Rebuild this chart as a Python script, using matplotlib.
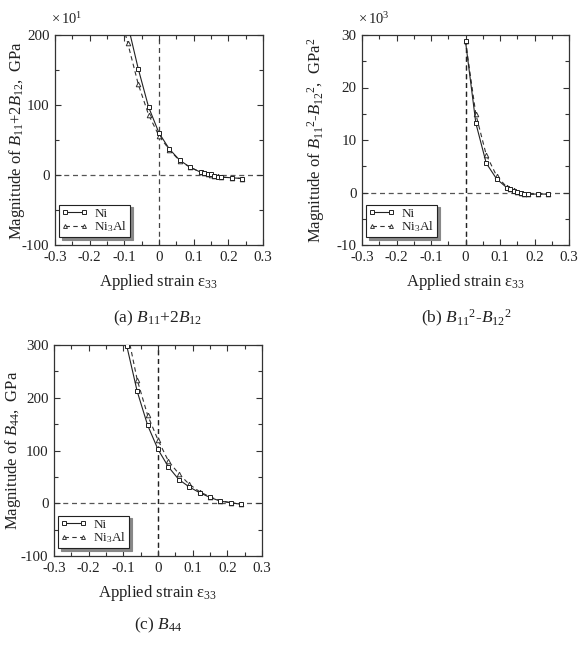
import matplotlib
matplotlib.use("Agg")
import matplotlib.pyplot as plt
from matplotlib.ticker import MultipleLocator
from matplotlib.lines import Line2D

plt.rcParams['font.family'] = ['Liberation Serif', 'DejaVu Serif']
plt.rcParams['mathtext.fontset'] = 'custom'
plt.rcParams['mathtext.rm'] = 'Liberation Serif'
plt.rcParams['mathtext.it'] = 'Liberation Serif:italic'
plt.rcParams['mathtext.bf'] = 'Liberation Serif:bold'
plt.rcParams['axes.unicode_minus'] = False

# ---------------- data ----------------
# (a) B11+2B12  (displayed in units of x10^1 GPa)
xa_ni = [-0.09, -0.06, -0.03, 0.0, 0.03, 0.06, 0.09, 0.12, 0.13, 0.14, 0.15, 0.16, 0.17, 0.18, 0.21, 0.24]
ya_ni = [215, 152, 97, 60, 37, 21, 11, 4, 3, 2, 1, -1, -3, -3, -4, -5]
xa_al = [-0.12, -0.09, -0.06, -0.03, 0.0, 0.03, 0.06, 0.09, 0.12, 0.13, 0.14, 0.15, 0.16, 0.17, 0.18, 0.21, 0.24]
ya_al = [245, 188, 130, 86, 56, 36, 20, 11, 4, 3, 2, 0, -1, -2, -3, -4, -5]

# (b) B11^2-B12^2  (x10^3 GPa^2)
xb_ni = [0.0, 0.03, 0.06, 0.09, 0.12, 0.13, 0.14, 0.15, 0.16, 0.17, 0.18, 0.21, 0.24]
yb_ni = [28.8, 13.2, 5.6, 2.6, 0.9, 0.6, 0.3, 0.1, -0.1, -0.2, -0.3, -0.3, -0.3]
xb_al = [0.0, 0.03, 0.06, 0.09, 0.12, 0.13, 0.14, 0.15, 0.16, 0.17, 0.18, 0.21, 0.24]
yb_al = [28.9, 14.9, 7.2, 3.2, 1.0, 0.7, 0.4, 0.1, -0.1, -0.2, -0.3, -0.3, -0.3]

# (c) B44  (GPa)
xc_ni = [-0.09, -0.06, -0.03, 0.0, 0.03, 0.06, 0.09, 0.12, 0.15, 0.18, 0.21, 0.24]
yc_ni = [298, 212, 148, 102, 69, 45, 31, 20, 11, 4, 1, -2]
xc_al = [-0.09, -0.06, -0.03, 0.0, 0.03, 0.06, 0.09, 0.12, 0.15, 0.18, 0.21, 0.24]
yc_al = [330, 234, 167, 120, 80, 56, 36, 22, 12, 5, 1, -2]

series_labels = ['Ni', 'Ni$_3$Al']
xticks = [-0.3, -0.2, -0.1, 0, 0.1, 0.2, 0.3]
xtick_labels = ['-0.3', '-0.2', '-0.1', '0', '0.1', '0.2', '0.3']

W, H = 582, 662
fig = plt.figure(figsize=(W / 100, H / 100), dpi=100)

TXT = '#222222'
DASH = (0, (4, 3))


def make_ax(rect, ylim, ymajor, yminor, ylabel, ylab_x, mult_text):
    ax = fig.add_axes(rect)
    ax.set_xlim(-0.3, 0.3)
    ax.set_ylim(*ylim)
    ax.set_xticks(xticks)
    ax.set_xticklabels(xtick_labels)
    ax.xaxis.set_minor_locator(MultipleLocator(0.05))
    ax.yaxis.set_major_locator(MultipleLocator(ymajor))
    ax.yaxis.set_minor_locator(MultipleLocator(yminor))
    ax.tick_params(which='both', direction='in', top=True, right=True,
                   labelsize=10.8, colors='#333333', labelcolor=TXT, width=0.8)
    ax.tick_params(which='major', length=4, pad=4)
    ax.tick_params(which='minor', length=3)
    for s in ax.spines.values():
        s.set_linewidth(0.9)
        s.set_color('#333333')
    ax.set_xlabel('Applied strain ε$_{33}$', fontsize=12, color=TXT, labelpad=6)
    ax.set_ylabel(ylabel, fontsize=12, color=TXT)
    ax.yaxis.set_label_coords(ylab_x, 0.5)
    ax.axhline(0, color='#555555', lw=0.9, ls=DASH, zorder=1)
    ax.axvline(0, color='#444444', lw=0.9, ls=DASH, zorder=1)
    if mult_text:
        ax.text(-0.02, 1.04, mult_text, transform=ax.transAxes, fontsize=10.5,
                color=TXT, ha='left', va='bottom')
    return ax


def draw(ax, xn, yn, xa, ya):
    ax.plot(xn, yn, color='#222222', lw=0.8, marker='s', ms=3.3,
            mfc='white', mec='#222222', mew=0.7, zorder=3)
    ax.plot(xa, ya, color='#333333', lw=0.8, ls=DASH, marker='^', ms=3.3,
            mfc='white', mec='#333333', mew=0.7, zorder=2)
    h1 = Line2D([], [], color='#222222', lw=0.8, marker='s', ms=2.8,
                mfc='white', mec='#222222', mew=0.7)
    h2 = Line2D([], [], color='#333333', lw=0.8, ls=DASH, marker='^', ms=2.8,
                mfc='white', mec='#333333', mew=0.7)
    leg = ax.legend([h1, h2], series_labels, loc='lower left',
                    bbox_to_anchor=(0.018, 0.038), numpoints=2, fontsize=9.5,
                    handlelength=2.0, handletextpad=0.5, labelspacing=0.0,
                    borderpad=0.2, borderaxespad=0, frameon=True, fancybox=False,
                    shadow={'color': '#888888', 'alpha': 1.0})
    leg.get_frame().set_edgecolor('#222222')
    leg.get_frame().set_linewidth(0.8)
    for t in leg.get_texts():
        t.set_color(TXT)


ax_a = make_ax([55 / W, 1 - 245 / H, 208 / W, 210 / H], (-100, 200), 100, 50,
               'Magnitude of $B_{11}$+2$B_{12}$,  GPa', -0.135, r'$\times\,10^{1}$')
draw(ax_a, xa_ni, ya_ni, xa_al, ya_al)

ax_b = make_ax([362 / W, 1 - 245 / H, 207 / W, 210 / H], (-10, 30), 10, 5,
               'Magnitude of $B_{11}{}^{2}$-$B_{12}{}^{2}$,  GPa$^{2}$', -0.17,
               r'$\times\,10^{3}$')
draw(ax_b, xb_ni, yb_ni, xb_al, yb_al)
ax_b.axvline(0, color='#222222', lw=0.9, ls=DASH, zorder=1)

ax_c = make_ax([54 / W, 1 - 556 / H, 208 / W, 211 / H], (-100, 300), 100, 50,
               'Magnitude of $B_{44}$,  GPa', -0.15, None)
draw(ax_c, xc_ni, yc_ni, xc_al, yc_al)
ax_c.axvline(0, color='#222222', lw=0.9, ls=DASH, zorder=1)

fig.text(158 / W, 1 - 318 / H, '(a) $B_{11}$+2$B_{12}$', fontsize=12.5,
         color=TXT, ha='center', va='center')
fig.text(466 / W, 1 - 318 / H, '(b) $B_{11}{}^{2}$-$B_{12}{}^{2}$', fontsize=12.5,
         color=TXT, ha='center', va='center')
fig.text(158 / W, 1 - 625 / H, '(c) $B_{44}$', fontsize=12.5,
         color=TXT, ha='center', va='center')

fig.savefig('out.png', dpi=100, facecolor='white')
